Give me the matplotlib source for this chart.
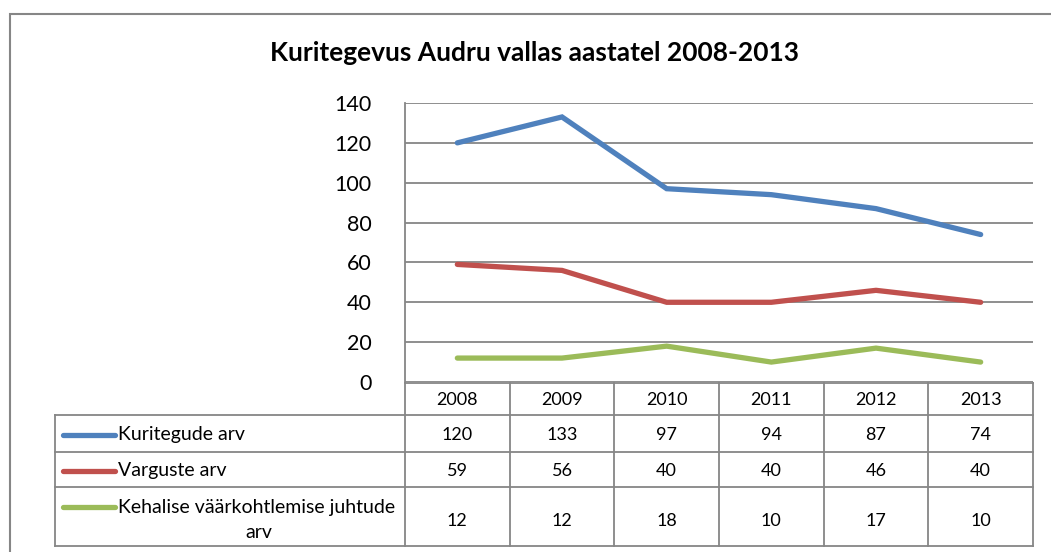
import matplotlib.pyplot as plt
from matplotlib.patches import Rectangle

plt.rcParams['font.family'] = ['Lato', 'DejaVu Sans']

# andmed
years = ['2008', '2009', '2010', '2011', '2012', '2013']
kuriteod = [120, 133, 97, 94, 87, 74]
vargused = [59, 56, 40, 40, 46, 40]
vaarkohtlemine = [12, 12, 18, 10, 17, 10]
series_names = ['Kuritegude arv', 'Varguste arv', 'Kehalise väärkohtlemise juhtude\narv']
colors = ['#4F81BD', '#C0504D', '#9BBB59']
title = 'Kuritegevus Audru vallas aastatel 2008-2013'

W, H = 1051, 552
grid_c = '#868686'

fig = plt.figure(figsize=(W / 100, H / 100), dpi=100)

# välimine raam (ulatub pildist välja paremale ja alla)
frame_top = 1 - 14 / H
fig.add_artist(Rectangle((9.5 / W, -0.1), 1.2, frame_top + 0.1,
                         transform=fig.transFigure, fill=False,
                         edgecolor=grid_c, lw=1.5))

# joonise ala (pikslites)
left, right, top, bottom = 405, 1033, 103, 382
ax = fig.add_axes([left / W, 1 - bottom / H, (right - left) / W, (bottom - top) / H])
x = list(range(len(years)))
for vals, c in zip([kuriteod, vargused, vaarkohtlemine], colors):
    ax.plot(x, vals, color=c, lw=3.8, solid_capstyle='round', solid_joinstyle='miter', zorder=3)

ax.set_xlim(-0.5, len(years) - 0.5)
ax.set_ylim(0, 140)
ax.set_yticks(range(0, 141, 20))
ax.yaxis.grid(True, color=grid_c, lw=1.3)
ax.set_axisbelow(True)
ax.set_xticks([])
ax.tick_params(axis='y', length=0, pad=24, labelsize=15.5)
for s in ['top', 'right', 'bottom']:
    ax.spines[s].set_visible(False)
ax.spines['left'].set_color(grid_c)
ax.spines['left'].set_linewidth(1.3)

fig.text(535 / W, 1 - 53 / H, title, ha='center', va='center',
         fontsize=19, fontweight='bold')

# andmetabel
tax = fig.add_axes([0, 0, 1, 1], facecolor='none')
tax.set_xlim(0, W)
tax.set_ylim(H, 0)
tax.axis('off')

tleft = 55
row_edges = [383, 415, 452, 487, 546]
col_w = (right - left) / len(years)
lk = dict(color=grid_c, lw=1.3)

tax.plot([left, right], [row_edges[0]] * 2, **lk)
for yy in row_edges[1:]:
    tax.plot([tleft, right], [yy, yy], **lk)
tax.plot([tleft, tleft], [row_edges[1], row_edges[-1]], **lk)
for i in range(len(years) + 1):
    xx = left + i * col_w
    tax.plot([xx, xx], [row_edges[0], row_edges[-1]], **lk)

fs = 13
for i, yr in enumerate(years):
    tax.text(left + (i + 0.5) * col_w, (row_edges[0] + row_edges[1]) / 2 + 1, yr,
             ha='center', va='center', fontsize=fs)

table_rows = [kuriteod, vargused, vaarkohtlemine]
for r, (vals, name, c) in enumerate(zip(table_rows, series_names, colors)):
    y0, y1 = row_edges[r + 1], row_edges[r + 2]
    ym = (y0 + y1) / 2 + 1
    if '\n' in name:
        ym += 4
    for i, v in enumerate(vals):
        tax.text(left + (i + 0.5) * col_w, ym, str(v), ha='center', va='center', fontsize=fs)
    if '\n' in name:
        ky = y0 + 20
        tax.text(118, ky + 1, name.split('\n')[0], ha='left', va='center', fontsize=14)
        tax.text(118 + 141, ky + 25, name.split('\n')[1], ha='center', va='center', fontsize=14)
    else:
        ky = ym
        tax.text(118, ym, name, ha='left', va='center', fontsize=14)
    tax.plot([63, 115], [ky, ky], color=c, lw=3.8, solid_capstyle='round')

fig.savefig('out.png', dpi=100)
